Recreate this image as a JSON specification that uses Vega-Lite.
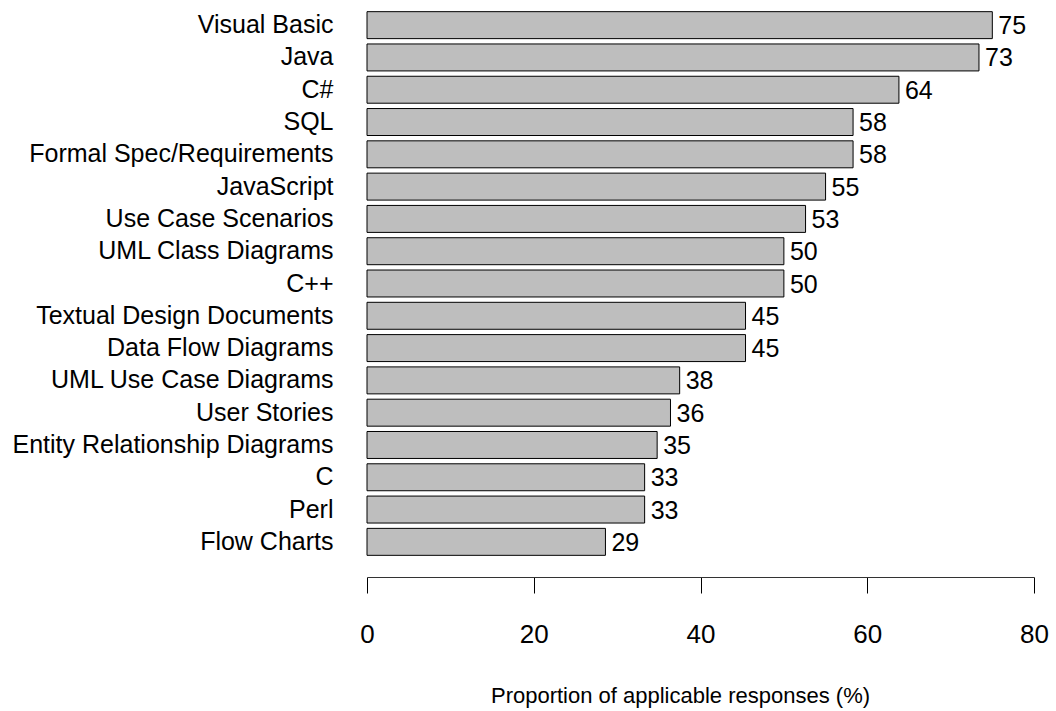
{
  "$schema": "https://vega.github.io/schema/vega-lite/v6.json",
  "autosize": "none",
  "padding": {"left": 367, "top": 9, "right": 22, "bottom": 153},
  "width": 667,
  "height": 549,
  "background": "white",
  "data": {
    "values": [
      {"item": "Visual Basic", "pct": 75.0},
      {"item": "Java", "pct": 73.4},
      {"item": "C#", "pct": 63.8},
      {"item": "SQL", "pct": 58.3},
      {"item": "Formal Spec/Requirements", "pct": 58.3},
      {"item": "JavaScript", "pct": 55.0},
      {"item": "Use Case Scenarios", "pct": 52.6},
      {"item": "UML Class Diagrams", "pct": 50.0},
      {"item": "C++", "pct": 50.0},
      {"item": "Textual Design Documents", "pct": 45.4},
      {"item": "Data Flow Diagrams", "pct": 45.4},
      {"item": "UML Use Case Diagrams", "pct": 37.5},
      {"item": "User Stories", "pct": 36.4},
      {"item": "Entity Relationship Diagrams", "pct": 34.8},
      {"item": "C", "pct": 33.3},
      {"item": "Perl", "pct": 33.3},
      {"item": "Flow Charts", "pct": 28.6}
    ]
  },
  "config": {
    "view": {"stroke": null},
    "font": "Liberation Sans"
  },
  "encoding": {
    "y": {
      "field": "item",
      "type": "nominal",
      "sort": null,
      "scale": {"paddingInner": 0.165, "paddingOuter": 0.0825},
      "axis": {
        "title": null,
        "domain": false,
        "ticks": false,
        "labelPadding": 34,
        "labelFontSize": 25,
        "labelColor": "black",
        "labelFont": "Liberation Sans",
        "labelLimit": 400
      }
    },
    "x": {
      "field": "pct",
      "type": "quantitative",
      "scale": {"domain": [0, 80], "nice": false, "zero": true},
      "axis": {
        "title": "Proportion of applicable responses (%)",
        "values": [0, 20, 40, 60, 80],
        "grid": false,
        "offset": 19,
        "domainColor": "#333333",
        "domainWidth": 1,
        "tickColor": "black",
        "tickSize": 16,
        "tickWidth": 1,
        "labelFlush": false,
        "labelOverlap": false,
        "labelFontSize": 26,
        "labelColor": "black",
        "labelFont": "Liberation Sans",
        "labelBaseline": "alphabetic",
        "labelPadding": 49,
        "titleFontSize": 22,
        "titleFontWeight": "normal",
        "titleColor": "black",
        "titleFont": "Liberation Sans",
        "titleAlign": "center",
        "titleBaseline": "alphabetic",
        "titleX": 313,
        "titleY": 125
      }
    }
  },
  "layer": [
    {
      "mark": {"type": "bar", "fill": "#bebebe", "stroke": "black", "strokeWidth": 1}
    },
    {
      "mark": {"type": "text", "align": "left", "baseline": "middle", "dx": 6, "dy": 1, "fontSize": 25, "color": "black", "font": "Liberation Sans"},
      "encoding": {
        "text": {"field": "pct", "type": "quantitative", "format": ".0f"}
      }
    }
  ]
}
